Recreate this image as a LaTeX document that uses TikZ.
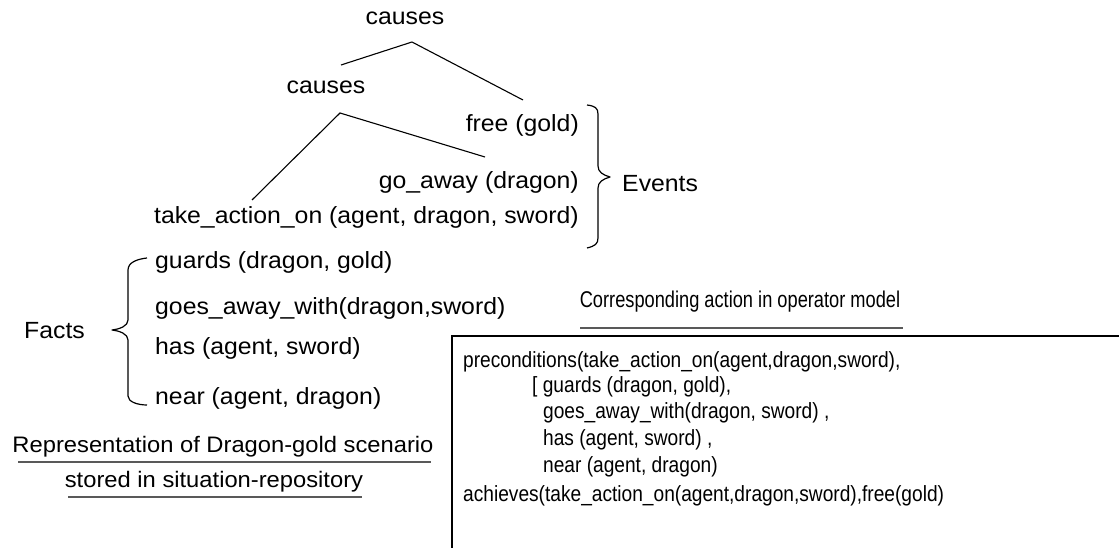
\documentclass[tikz,border=0pt]{standalone}
\usepackage{fontspec}
\setmainfont{Liberation Sans}
\newfontfamily\widefont[FakeStretch=1.06]{Liberation Sans}
\newfontfamily\narrowfont[FakeStretch=0.87]{Liberation Sans}
\newfontfamily\titlefont[FakeStretch=0.8]{Liberation Sans}
\begin{document}
\begin{tikzpicture}[x=1pt,y=-1pt,
  treetext/.style={inner sep=0pt,font=\widefont\fontsize{23.4}{28}\selectfont},
  boxtext/.style={inner sep=0pt,anchor=west,font=\narrowfont\fontsize{22}{26}\selectfont},
  captext/.style={inner sep=0pt,font=\widefont\fontsize{22.4}{27}\selectfont},
  optitle/.style={inner sep=0pt,font=\titlefont\fontsize{22.8}{27}\selectfont},
  link/.style={line width=1.1pt},
  bracepath/.style={line width=1.2pt,line join=round},
  uline/.style={line width=1.6pt,black!65}]
\useasboundingbox (0,0) rectangle (1119,548);

% --- causal tree of events ---
\node[treetext] (c1) at (405,18) {causes};
\node[treetext] (c2) at (326,87) {causes};
\node[treetext,anchor=east] (free) at (579,125) {free (gold)};
\node[treetext,anchor=east] (goaway) at (579,182) {go\_away (dragon)};
\node[treetext,anchor=east] (take) at (579,217) {take\_action\_on (agent, dragon, sword)};

\coordinate (apexA) at (412,42);
\coordinate (legA) at (341,65);
\coordinate (legB) at (523,100);
\coordinate (apexB) at (340,113);
\coordinate (legC) at (485,157);
\coordinate (legD) at (252,200);
\draw[link] (legA) -- (apexA) -- (legB);
\draw[link] (legD) -- (apexB) -- (legC);

% brace grouping the events
\draw[bracepath] (587,105) .. controls (595,106) and (598,108) .. (598,114)
  -- (598,166) .. controls (598,172) and (603,175) .. (610,177)
  .. controls (603,179) and (598,182) .. (598,188)
  -- (598,238) .. controls (598,244) and (595,246) .. (587,248);
\node[treetext,anchor=west] (events) at (622,184) {Events};

% --- facts ---
\node[treetext,anchor=west] (f1) at (155,262) {guards (dragon, gold)};
\node[treetext,anchor=west] (f2) at (155,308) {goes\_away\_with(dragon,sword)};
\node[treetext,anchor=west] (f3) at (155,348) {has (agent, sword)};
\node[treetext,anchor=west] (f4) at (155,398) {near (agent, dragon)};
\node[treetext,anchor=west] (facts) at (24,331) {Facts};

\draw[bracepath] (147,258) .. controls (138,259) and (128,262) .. (128,270)
  -- (128,320) .. controls (128,326) and (120,329) .. (112,330)
  .. controls (120,331) and (128,334) .. (128,340)
  -- (128,396) .. controls (128,402) and (138,405) .. (147,405);

% caption of the scenario
\node[captext] (cap1) at (223,447) {Representation of Dragon-gold scenario};
\node[captext] (cap2) at (214,482) {stored in situation-repository};
\draw[uline] (18,462) -- (431,462);
\draw[uline] (68,497) -- (362,497);

% --- operator model ---
\node[optitle] (optitle) at (740,302) {Corresponding action in operator model};
\draw[uline] (580,328) -- (903,328);

\coordinate (boxTR) at (1125,336);
\coordinate (boxTL) at (452,336);
\coordinate (boxBL) at (452,560);
\draw[line width=1.3pt] (boxTR) -- (boxTL) -- (boxBL);

\node[boxtext] (p1) at (463,362) {preconditions(take\_action\_on(agent,dragon,sword),};
\node[boxtext] (p2) at (532,387) {[ guards (dragon, gold),};
\node[boxtext] (p3) at (543,413) {goes\_away\_with(dragon, sword) ,};
\node[boxtext] (p4) at (543,440) {has (agent, sword) ,};
\node[boxtext] (p5) at (543,467) {near (agent, dragon)};
\node[boxtext] (p6) at (463,496) {achieves(take\_action\_on(agent,dragon,sword),free(gold)};
\end{tikzpicture}
\end{document}
